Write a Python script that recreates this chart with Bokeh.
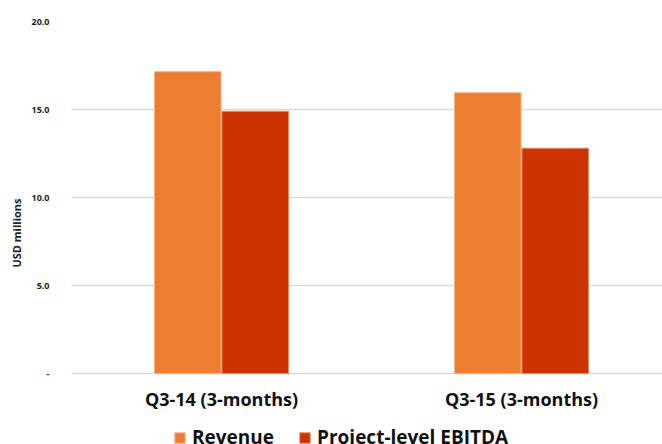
from bokeh.plotting import figure
from bokeh.models import Range1d, Legend, LegendItem, FixedTicker, ColumnDataSource, Title
from bokeh.core.properties import value
from bokeh.embed import file_html
from bokeh.resources import INLINE

# Quarterly results, USD millions
periods = ["Q3-14 (3-months)", "Q3-15 (3-months)"]
revenue = [17.15, 15.95]
ebitda = [14.9, 12.8]
y_ticks = [0, 5, 10, 15, 20]
y_tick_labels = ["-", "5.0", "10.0", "15.0", "20.0"]

FONT = "Open Sans"
ORANGE = "#ED7D31"
RED = "#CC3300"

pos = [i + 0.5 for i in range(len(periods))]
bar_w = 0.222
off = 0.1125

src = ColumnDataSource(dict(
    xr=[p - off for p in pos], xe=[p + off for p in pos],
    revenue=revenue, ebitda=ebitda,
))

# plot area runs to the bottom edge; category names and legend live under the zero line
px_per_unit = 352 / 20
p = figure(width=662, height=444, output_backend="svg", toolbar_location=None,
           x_range=Range1d(0, 591 / 300), y_range=Range1d(-71 / px_per_unit, 20),
           min_border_left=71, min_border_right=0, min_border_top=21,
           min_border_bottom=0)
p.outline_line_color = None

r1 = p.vbar(x="xr", top="revenue", width=bar_w, source=src,
            fill_color=ORANGE, line_color="#F5B58A", line_width=1)
r2 = p.vbar(x="xe", top="ebitda", width=bar_w, source=src,
            fill_color=RED, line_color="#E08A66", line_width=1)

# category names under each pair of bars
p.text(x=pos, y=[-1.45] * len(pos), text=periods,
       text_font=value(FONT), text_font_style="bold", text_font_size="18px",
       text_color="#111111", text_align="center", text_baseline="middle")

# y axis
p.yaxis.ticker = FixedTicker(ticks=y_ticks)
p.yaxis.major_label_overrides = {t: l for t, l in zip(y_ticks, y_tick_labels)}
p.yaxis.axis_line_color = None
p.yaxis.major_tick_line_color = None
p.yaxis.minor_tick_line_color = None
p.yaxis.major_label_text_font = FONT
p.yaxis.major_label_text_font_style = "bold"
p.yaxis.major_label_text_font_size = "9px"
p.yaxis.major_label_text_color = "#222222"
p.yaxis.major_label_standoff = 16
p.xaxis.visible = False

# y axis title, centred on the 0-20 band rather than the whole plot area
ytitle = Title(text="USD millions", align="center", offset=-70, standoff=10,
               text_font=FONT, text_font_style="bold", text_font_size="11px",
               text_color="#222222")
p.add_layout(ytitle, "left")

p.xgrid.grid_line_color = None
p.ygrid.grid_line_color = "#D9D9D9"
p.ygrid.grid_line_width = 1.5

legend = Legend(items=[LegendItem(label="Revenue", renderers=[r1]),
                       LegendItem(label="Project-level EBITDA", renderers=[r2])],
                orientation="horizontal", location=(102, -6),
                label_text_font=FONT, label_text_font_style="bold",
                label_text_font_size="19px", label_text_color="#111111",
                glyph_width=13, glyph_height=13, spacing=24, label_standoff=6,
                padding=0, margin=0, border_line_color=None,
                background_fill_alpha=0)
p.add_layout(legend, "center")

open("out.html", "w").write(file_html(p, INLINE))
